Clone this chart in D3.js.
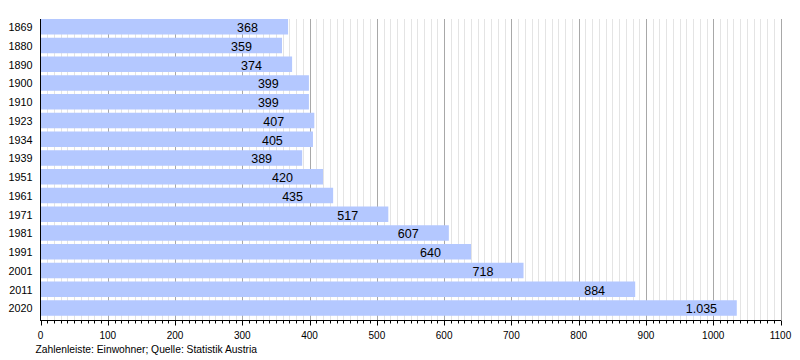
<!DOCTYPE html>
<html><head><meta charset="utf-8">
<script src="https://cdn.jsdelivr.net/npm/d3@7"></script>
<style>body{margin:0;background:#fff}svg{display:block;font-family:"Liberation Sans",Arial,sans-serif}</style>
</head><body><svg id="c" width="800" height="360"></svg>
<script>
const years = ["1869","1880","1890","1900","1910","1923","1934","1939","1951","1961","1971","1981","1991","2001","2011","2020"];
const population = [368,359,374,399,399,407,405,389,420,435,517,607,640,718,884,1035];
const majorTicks = [0,100,200,300,400,500,600,700,800,900,1000,1100];
const footer = "Zahlenleiste: Einwohner; Quelle: Statistik Austria";

const svg = d3.select("#c");
const x = d3.scaleLinear().domain([0,1100]).range([40.5,780.5]);
const y = d3.scaleBand().domain(years).range([19,319]);
const fmt = v => v >= 1000 ? Math.floor(v/1000)+"."+String(v%1000).padStart(3,"0") : String(v);

const minor = d3.range(10,1100,10).filter(v => v%100 !== 0);
svg.append("g").selectAll("line").data(minor).join("line")
  .attr("x1",d=>Math.round(x(d))+0.5).attr("x2",d=>Math.round(x(d))+0.5)
  .attr("y1",19).attr("y2",320).attr("stroke","#e4e4e4").attr("stroke-width",1);
svg.append("g").selectAll("line").data(majorTicks.filter(d=>d>0)).join("line")
  .attr("x1",d=>Math.round(x(d))+0.5).attr("x2",d=>Math.round(x(d))+0.5)
  .attr("y1",19).attr("y2",320).attr("stroke","#a8a8a8").attr("stroke-width",1);

svg.append("g").selectAll("rect").data(years).join("rect")
  .attr("x",x(0)).attr("y",d=>y(d))
  .attr("width",(d,i)=>x(population[i])-x(0)).attr("height",15.5)
  .attr("fill","#b4c8ff");

svg.append("g").selectAll("text").data(years).join("text")
  .attr("x",(d,i)=>x(population[i])-51).attr("y",d=>y(d)+13)
  .attr("font-size",12.5).attr("fill","#000")
  .text((d,i)=>fmt(population[i]));

svg.append("g").selectAll("text").data(years).join("text")
  .attr("x",32.5).attr("y",d=>y(d)+12).attr("text-anchor","end")
  .attr("font-size",10.8).attr("fill","#000").text(d=>d);

// y axis line
svg.append("line").attr("x1",40.5).attr("x2",40.5).attr("y1",19).attr("y2",320.5).attr("stroke","#000");

// x axis
const ax = svg.append("g").attr("transform","translate(0,320.5)");
ax.append("line").attr("x1",40).attr("x2",781).attr("y1",0).attr("y2",0).attr("stroke","#000");
ax.selectAll("line.mn").data(minor).join("line").attr("class","mn")
  .attr("x1",d=>Math.round(x(d))+0.5).attr("x2",d=>Math.round(x(d))+0.5)
  .attr("y1",0).attr("y2",3).attr("stroke","#000");
ax.selectAll("line.mj").data(majorTicks).join("line").attr("class","mj")
  .attr("x1",d=>Math.round(x(d))+0.5).attr("x2",d=>Math.round(x(d))+0.5)
  .attr("y1",0).attr("y2",5).attr("stroke","#000");
ax.selectAll("text").data(majorTicks).join("text")
  .attr("x",d=>x(d)).attr("y",18.5).attr("text-anchor","middle")
  .attr("font-size",10).attr("fill","#000").text(d=>d);

svg.append("text").attr("x",35.5).attr("y",352.5).attr("font-size",10.3).attr("fill","#000").text(footer);
</script></body></html>
